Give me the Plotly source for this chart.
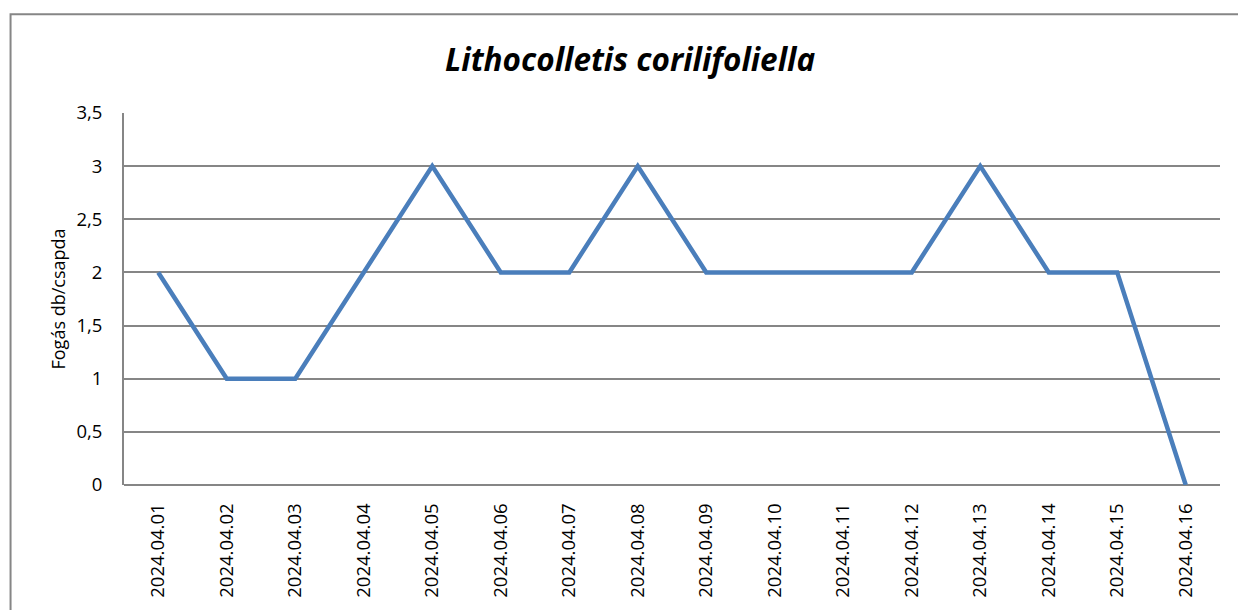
import plotly.graph_objects as go

dates = ["2024.04.01", "2024.04.02", "2024.04.03", "2024.04.04", "2024.04.05",
         "2024.04.06", "2024.04.07", "2024.04.08", "2024.04.09", "2024.04.10",
         "2024.04.11", "2024.04.12", "2024.04.13", "2024.04.14", "2024.04.15",
         "2024.04.16"]
catch = [2, 1, 1, 2, 3, 2, 2, 3, 2, 2, 2, 2, 3, 2, 2, 0]
y_ticks = [0, 0.5, 1, 1.5, 2, 2.5, 3, 3.5]
y_tick_labels = ["0", "0,5", "1", "1,5", "2", "2,5", "3", "3,5"]

W, H = 1238, 610
L, R, T, B = 123.5, 18, 112.5, 122.5
pw, ph = W - L - R, H - T - B

font = "'Open Sans', 'Noto Sans', sans-serif"
fig = go.Figure(go.Scatter(x=dates, y=catch, mode="lines",
                           line=dict(color="#4A7EBB", width=4.5)))

fig.update_layout(
    width=W, height=H,
    margin=dict(l=L, r=R, t=T, b=B),
    plot_bgcolor="white", paper_bgcolor="white",
    showlegend=False,
    font=dict(family=font, color="black"),
)
fig.update_xaxes(type="category", showgrid=False, showline=False, zeroline=False,
                 tickangle=-90, tickfont=dict(size=18.5), ticks="outside",
                 ticklen=10, tickcolor="rgba(0,0,0,0)", range=[-0.5, 15.5])
fig.update_yaxes(range=[0, 3.5], tickvals=y_ticks, ticktext=y_tick_labels,
                 showgrid=True, gridcolor="#868686", gridwidth=1.8,
                 zeroline=True, zerolinecolor="#868686", zerolinewidth=1.8,
                 showline=True, linecolor="#868686", linewidth=1.8,
                 ticks="outside", ticklen=16, tickcolor="rgba(0,0,0,0)",
                 tickfont=dict(size=18.5),
                 title=dict(text="Fogás db/csapda", font=dict(size=18), standoff=6))

# chart frame
fig.add_shape(type="rect", xref="paper", yref="paper",
              x0=(10 - L) / pw, x1=(W + 20 - L) / pw,
              y0=-(H + 20 - T - ph) / ph, y1=1 + (T - 13) / ph,
              line=dict(color="#868686", width=2), fillcolor="rgba(0,0,0,0)",
              layer="below")
fig.add_annotation(text="<b><i>Lithocolletis corilifoliella</i></b>",
                   xref="paper", yref="paper", x=(630 - L) / pw, y=1 + (T - 58) / ph,
                   xanchor="center", yanchor="middle", showarrow=False,
                   font=dict(size=31.5, family=font))

fig.write_html("out.html", config={"displayModeBar": False})
with open("out.html", encoding="utf-8") as f:
    html = f.read()
html = html.replace("<head>", "<head><style>html,body{margin:0;padding:0;overflow:hidden}</style>", 1)
with open("out.html", "w", encoding="utf-8") as f:
    f.write(html)
